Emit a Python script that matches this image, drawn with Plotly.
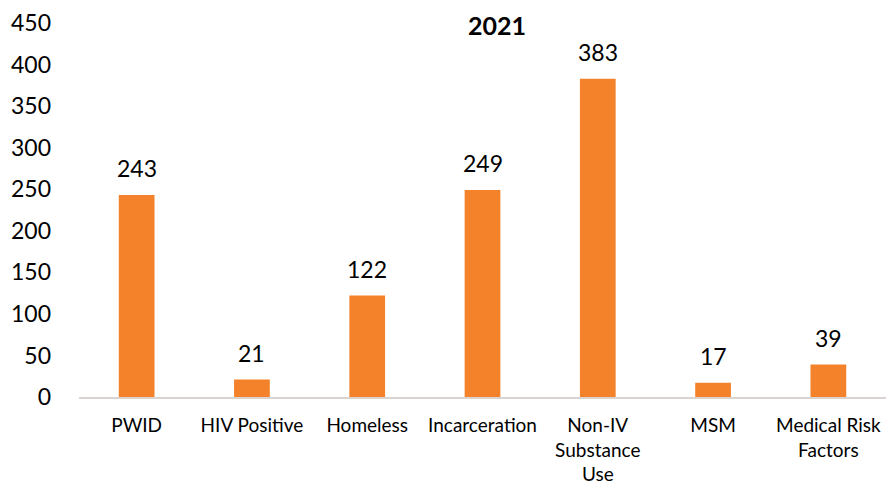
import plotly.graph_objects as go

categories = ["PWID", "HIV Positive", "Homeless", "Incarceration",
              "Non-IV<br>Substance<br>Use", "MSM", "Medical Risk<br>Factors"]
values = [243, 21, 122, 249, 383, 17, 39]
y_ticks = [0, 50, 100, 150, 200, 250, 300, 350, 400, 450]
title_text = "2021"

FONT = "Lato, Open Sans, sans-serif"
BAR = "#F4822A"

fig = go.Figure(go.Bar(
    x=categories, y=values, marker_color=BAR, marker_line_width=0,
    hoverinfo="skip",
))

for c, v in zip(categories, values):
    fig.add_annotation(x=c, y=v, text=str(v), showarrow=False,
                       yanchor="bottom", yshift=11,
                       font=dict(family=FONT, size=23, color="#000000"))

fig.add_annotation(x=0.518, y=1.04, xref="paper", yref="paper",
                   text="<b>" + title_text + "</b>", showarrow=False,
                   yanchor="top", font=dict(family=FONT, size=25, color="#000000"))

fig.update_layout(
    width=888, height=476,
    margin=dict(l=71, r=10, t=15, b=87, autoexpand=False),
    plot_bgcolor="white", paper_bgcolor="white",
    bargap=0.69, showlegend=False,
    font=dict(family=FONT, color="#000000"),
)
fig.update_xaxes(showline=True, linecolor="#D9D3D1", linewidth=2,
                 ticks="", showgrid=False, automargin=False,
                 tickfont=dict(family=FONT, size=19, color="#000000"),
                 ticklabelstandoff=10, ticklabeloverflow="allow")
fig.update_yaxes(range=[0, 450], tickvals=y_ticks, showgrid=False,
                 zeroline=False, showline=False, ticks="", automargin=False,
                 tickfont=dict(family=FONT, size=23, color="#000000"),
                 ticklabelstandoff=27, ticklabeloverflow="allow")

fig.write_html("out.html")
